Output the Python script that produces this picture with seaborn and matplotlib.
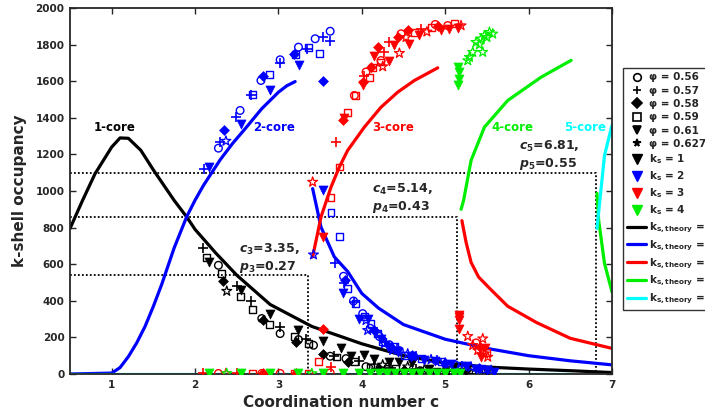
import matplotlib
matplotlib.use("Agg")
import pandas as pd
import matplotlib.pyplot as plt
from matplotlib.lines import Line2D
import seaborn as sns

# ── Legend / style categories ─────────────────────────────
phi_labels = ["0.56", "0.57", "0.58", "0.59", "0.61", "0.627"]
phi_markers = ["o", "+", "D", "s", "v", "*"]
ks_levels = [1, 2, 3, 4]
ks_colors = {1: "black", 2: "#0000ff", 3: "#ff0000", 4: "#00ee00", 5: "#00ffff"}

# ── Simulation points (c, occupancy, phi index) ───────────
ks1_c = [2.10, 2.14, 2.17, 2.28, 2.32, 2.34, 2.38, 2.50, 2.55, 2.54, 2.67, 2.69,
         2.90, 2.80, 2.82, 2.89, 3.02, 3.02, 3.24, 3.21, 3.19, 3.24, 3.33, 3.36,
         3.42, 3.53, 3.53, 3.62, 3.75, 3.70, 3.67, 3.87, 3.81, 3.83, 3.91, 3.97,
         4.03, 4.15, 4.33, 4.45, 4.60, 4.05, 4.10, 4.20, 4.25, 4.30, 4.40, 4.50,
         4.55, 4.70, 4.80, 4.90, 5.00, 5.10, 5.20, 5.30, 5.40, 5.50, 4.35, 4.65,
         5.05, 4.15, 4.75, 5.25]
ks1_n = [690, 639, 612, 594, 548, 508, 453, 479, 461, 421, 399, 352,
         326, 303, 295, 271, 257, 221, 242, 175, 206, 188, 193, 166,
         157, 179, 111, 97, 144, 93, 100, 97, 84, 66, 66, 70,
         102, 84, 66, 66, 60, 40, 35, 30, 50, 25, 30, 20,
         40, 18, 30, 15, 20, 25, 12, 15, 8, 10, 35, 28,
         18, 45, 25, 22]
ks1_phi = [1, 3, 4, 0, 3, 2, 5, 1, 4, 3, 1, 3,
           4, 0, 2, 3, 1, 0, 4, 2, 3, 0, 1, 3,
           0, 4, 2, 0, 4, 3, 1, 4, 0, 2, 3, 1,
           4, 4, 4, 4, 4, 0, 3, 2, 5, 0, 3, 2,
           5, 0, 4, 3, 2, 4, 0, 5, 3, 4, 1, 1,
           1, 5, 5, 2]

ks2_c = [2.11, 2.17, 2.28, 2.30, 2.37, 2.35, 2.49, 2.54, 2.55, 2.67, 2.69, 2.90,
         2.79, 2.82, 2.89, 3.02, 3.02, 3.25, 3.19, 3.20, 3.24, 3.34, 3.36, 3.49,
         3.53, 3.44, 3.53, 3.62, 3.62,
         3.42, 3.53, 3.63, 3.73, 3.68, 3.78, 3.80, 3.79, 3.77, 3.83, 3.90, 3.91,
         3.92, 3.97, 4.01, 4.03, 4.05, 4.07, 4.11, 4.07, 4.10, 4.15, 4.19, 4.23,
         4.21, 4.27, 4.25, 4.31, 4.33, 4.39, 4.37, 4.43, 4.45, 4.51, 4.55, 4.59,
         4.62, 4.71, 4.75, 4.83, 4.88, 4.95, 5.00, 5.07, 5.12, 5.19, 5.25, 5.31,
         5.37, 5.43, 5.50, 5.55, 5.59, 4.28, 4.18, 4.42, 4.65, 4.90, 5.20, 4.35,
         4.60, 5.00, 5.40]
ks2_n = [1122, 1131, 1234, 1267, 1273, 1331, 1404, 1440, 1364, 1522, 1527, 1553,
         1604, 1626, 1637, 1699, 1717, 1686, 1750, 1745, 1786, 1777, 1786, 1750,
         1600, 1832, 1841, 1873, 1819,
         652, 1004, 880, 749, 606, 534, 512, 500, 442, 466, 399, 393,
         385, 302, 330, 315, 293, 300, 275, 239, 250, 240, 221, 193,
         205, 166, 180, 148, 160, 148, 130, 120, 128, 102, 110, 93,
         98, 84, 78, 79, 70, 66, 60, 57, 50, 48, 42, 38,
         30, 29, 22, 20, 11, 175, 230, 140, 100, 75, 45, 150,
         105, 62, 33]
ks2_phi = [1, 4, 0, 1, 5, 2, 1, 0, 4, 1, 3, 4,
           0, 2, 3, 1, 0, 4, 2, 3, 0, 1, 3, 3,
           2, 0, 1, 0, 1,
           5, 4, 3, 3, 1, 0, 2, 1, 4, 3, 0, 1,
           3, 4, 0, 3, 5, 4, 3, 5, 0, 2, 3, 4,
           0, 5, 3, 4, 0, 3, 5, 4, 0, 3, 5, 4,
           0, 3, 4, 5, 4, 3, 5, 4, 0, 3, 4, 5,
           4, 3, 4, 5, 4, 1, 1, 1, 1, 1, 1, 2,
           2, 2, 2]

ks3_c = [2.10, 2.28, 2.37, 2.50, 2.69, 2.80, 2.82, 3.02, 3.19, 3.21, 3.36, 3.62,
         3.53, 3.48, 3.63,
         3.41, 3.63, 3.53, 3.73, 3.69, 3.77, 3.79, 3.83, 3.91, 3.92, 4.01, 4.03,
         4.09, 4.01, 4.11, 4.13, 4.23, 4.22, 4.19, 4.32, 4.45, 4.33, 4.43, 4.47,
         4.57, 4.63, 4.71, 4.83, 4.91, 5.03, 5.05, 5.11, 5.19, 4.15, 4.27, 4.38,
         4.53, 4.68, 4.78, 4.95, 4.25, 4.05, 4.55, 4.88, 5.15,
         5.17, 5.17, 5.17, 5.16, 5.27, 5.45, 5.33, 5.39, 5.47, 5.51, 5.43, 5.48,
         5.37, 5.50, 5.42]
ks3_n = [3, 3, 3, 3, 3, 3, 3, 3, 3, 3, 3, 6,
         248, 66, 38,
         1049, 967, 749, 1131, 1267, 1386, 1400, 1431, 1522, 1522, 1595, 1631,
         1622, 1577, 1677, 1677, 1713, 1705, 1786, 1713, 1753, 1813, 1841, 1859,
         1804, 1868, 1886, 1895, 1904, 1904, 1886, 1914, 1904, 1740, 1760, 1800,
         1840, 1855, 1870, 1880, 1680, 1650, 1880, 1910, 1890,
         321, 293, 248, 310, 206, 193, 157, 129, 111, 93, 95, 140,
         170, 120, 150]
ks3_phi = [1, 0, 5, 1, 3, 0, 2, 0, 3, 2, 3, 0,
           2, 3, 1,
           5, 3, 4, 3, 1, 2, 4, 3, 0, 3, 2, 1,
           3, 4, 2, 3, 0, 3, 2, 4, 5, 1, 2, 0,
           4, 3, 1, 3, 2, 0, 4, 3, 5, 4, 1, 4,
           5, 4, 5, 4, 5, 0, 2, 0, 4,
           4, 4, 4, 4, 5, 5, 5, 5, 5, 5, 4, 4,
           0, 3, 2]

ks4_c = [2.17, 2.38, 2.55, 2.90, 3.24, 3.40, 3.53, 3.77, 3.97, 4.10, 4.20, 4.30,
         4.40, 4.50, 4.60, 4.70, 4.80, 4.90, 5.00, 5.10, 5.18, 4.25, 4.55, 4.85,
         5.15,
         5.15, 5.17, 5.16, 5.15, 5.27, 5.29, 5.33, 5.45, 5.37, 5.43, 5.47, 5.53,
         5.57, 5.50, 5.41]
ks4_n = [3, 3, 3, 3, 3, 3, 3, 3, 3, 3, 3, 3,
         3, 3, 3, 3, 3, 3, 3, 3, 3, 3, 3, 3,
         3,
         1577, 1613, 1650, 1677, 1713, 1731, 1759, 1759, 1813, 1832, 1850, 1868,
         1859, 1840, 1800]
ks4_phi = [4, 5, 4, 4, 4, 5, 4, 4, 4, 4, 4, 4,
           4, 4, 4, 4, 4, 4, 4, 4, 4, 5, 0, 3,
           5,
           4, 4, 4, 4, 5, 5, 5, 5, 5, 5, 5, 5,
           5, 5, 5]

# ── Theory curves (branches) ──────────────────────────────
th1_c = [0.5, 0.65, 0.8, 1.0, 1.1, 1.2, 1.35, 1.5, 1.75, 1.9, 2.0, 2.25, 2.5,
         2.9, 3.4, 4.0, 4.5, 5.0, 5.5, 6.0, 6.5, 7.0]
th1_n = [795, 948, 1094, 1240, 1290, 1288, 1222, 1115, 948, 858, 790, 660, 540,
         380, 260, 165, 100, 60, 38, 27, 18, 8]
th2a_c = [0.5, 1.0, 1.1, 1.2, 1.3, 1.4, 1.5, 1.6, 1.75, 1.9, 2.0, 2.1, 2.2, 2.3,
          2.45, 2.6, 2.8, 3.0, 3.1, 3.2]
th2a_n = [0, 5, 35, 95, 170, 260, 370, 490, 690, 860, 950, 1030, 1100, 1170,
          1260, 1340, 1450, 1540, 1575, 1598]
th2b_c = [3.41, 3.51, 3.67, 3.83, 4.0, 4.2, 4.5, 5.0, 5.5, 6.0, 6.5, 7.0]
th2b_n = [1013, 803, 640, 560, 440, 360, 270, 190, 140, 100, 72, 50]
th3a_c = [3.41, 3.51, 3.63, 3.73, 3.83, 4.03, 4.23, 4.43, 4.63, 4.91]
th3a_n = [640, 858, 1021, 1131, 1222, 1349, 1458, 1540, 1604, 1673]
th3b_c = [5.2, 5.25, 5.31, 5.4, 5.55, 5.75, 6.1, 6.5, 7.0]
th3b_n = [838, 720, 610, 530, 460, 370, 280, 195, 140]
th4a_c = [5.19, 5.22, 5.31, 5.47, 5.75, 6.15, 6.51]
th4a_n = [900, 948, 1167, 1349, 1495, 1622, 1714]
th4b_c = [6.82, 6.84, 6.91, 7.0]
th4b_n = [987, 840, 605, 448]
th5a_c = [0.5, 6.5]
th5a_n = [0, 0]
th5b_c = [6.82, 6.91, 7.0]
th5b_n = [795, 1195, 1359]

# critical points
c_crit = [3.35, 5.14, 6.81]
n_crit = [540, 860, 1100]
p_crit = [0.27, 0.43, 0.55]

# ── Build table ───────────────────────────────────────────
frames = []
for ks, cs, ns, ph in [(1, ks1_c, ks1_n, ks1_phi), (2, ks2_c, ks2_n, ks2_phi),
                       (3, ks3_c, ks3_n, ks3_phi), (4, ks4_c, ks4_n, ks4_phi)]:
    frames.append(pd.DataFrame({"c": cs, "n": ns, "phi": ph, "ks": ks}))
df = pd.concat(frames, ignore_index=True)

# ── Figure ────────────────────────────────────────────────
sns.set_style("ticks")
plt.rcParams["font.family"] = ["DejaVu Sans"]
plt.rcParams["font.weight"] = "bold"
plt.rcParams["mathtext.fontset"] = "custom"
plt.rcParams["mathtext.rm"] = "DejaVu Sans:bold"
plt.rcParams["mathtext.it"] = "DejaVu Sans:italic:bold"
plt.rcParams["mathtext.bf"] = "DejaVu Sans:bold"

fig = plt.figure(figsize=(7.05, 4.17), dpi=100)
ax = fig.add_axes([70 / 705, 43 / 417, 542 / 705, 366 / 417])

# theory lines
lw = 2.3
branches = [(th1_c, th1_n, 1), (th2a_c, th2a_n, 2), (th2b_c, th2b_n, 2),
            (th3a_c, th3a_n, 3), (th3b_c, th3b_n, 3), (th4a_c, th4a_n, 4),
            (th4b_c, th4b_n, 4), (th5a_c, th5a_n, 5), (th5b_c, th5b_n, 5)]
for cs, ns, k in branches:
    sns.lineplot(x=cs, y=ns, color=ks_colors[k], lw=lw, sort=False,
                 estimator=None, ax=ax, legend=False, zorder=2)

# dotted guides
for cc, nn in zip(c_crit, n_crit):
    ax.plot([0.5, cc, cc], [nn, nn, 0], ls=(0, (1, 1.2)), color="black",
            lw=1.3, zorder=1)

# scatter points
sizes = {"o": 30, "+": 45, "D": 25, "s": 25, "v": 42, "*": 55}
for ks in ks_levels:
    for i, m in enumerate(phi_markers):
        sub = df[(df.ks == ks) & (df.phi == i)]
        if sub.empty:
            continue
        c = ks_colors[ks]
        kw = dict(marker=m, s=sizes[m], ax=ax, legend=False, zorder=3)
        if m == "+":
            kw.update(color=c, linewidth=1.2)
        elif m in ("o", "s"):
            kw.update(color=c, facecolor="none", edgecolor=c, linewidth=1.0)
        elif m == "*":
            kw.update(color=c, facecolor="none", edgecolor=c, linewidth=0.9)
        else:
            kw.update(color=c, edgecolor=c, linewidth=0.5)
        sns.scatterplot(data=sub, x="c", y="n", **kw)

# core labels
core_x = [1.03, 2.95, 4.38, 5.81, 6.68]
for k, xc in enumerate(core_x, start=1):
    ax.text(xc, 1345, f"{k}-core", color=ks_colors[k], fontsize=8.5,
            fontweight="bold", ha="center", va="center", zorder=4)

# critical annotations
ann_pos = [(2.53, 630), (4.12, 960), (5.89, 1193)]
for j, ((tx, ty), cc, pp) in enumerate(zip(ann_pos, c_crit, p_crit), start=3):
    ax.text(tx, ty, f"$c_{j}$={cc:.2f},\n$p_{j}$={pp:.2f}", fontsize=9,
            fontweight="bold", ha="left", va="center", linespacing=1.15, zorder=4)

ax.set_xlim(0.5, 7)
ax.set_ylim(0, 2000)
ax.set_xticks(range(1, 8))
ax.set_yticks(range(0, 2001, 200))
ax.tick_params(direction="in", length=4, width=1, labelsize=7.5, top=True,
               right=True, pad=4)
for lab in ax.get_xticklabels() + ax.get_yticklabels():
    lab.set_fontweight("bold")
for sp in ax.spines.values():
    sp.set_linewidth(1.3)
    sp.set_visible(True)
ax.set_xlabel("Coordination number c", fontsize=11, fontweight="bold", labelpad=4)
ax.set_ylabel("k-shell occupancy", fontsize=11, fontweight="bold", labelpad=6)

# legend
handles, labels = [], []
for m, lab in zip(phi_markers, phi_labels):
    fc = "none" if m in ("o", "s") else "black"
    handles.append(Line2D([], [], marker=m, ls="", color="black", mfc=fc,
                          markersize=5.5, mew=1.2))
    labels.append(f"φ = {lab}")
for k in ks_levels:
    handles.append(Line2D([], [], marker="v", ls="", color=ks_colors[k],
                          markersize=7))
    labels.append(r"k$_\mathrm{s}$ = " + str(k))
for k in range(1, 6):
    handles.append(Line2D([], [], color=ks_colors[k], lw=2.3))
    labels.append(r"k$_\mathrm{s,theory}$ =" + str(k))
leg = fig.legend(handles, labels, loc="upper left",
                 bbox_to_anchor=(623 / 705, 1 - 68 / 417), fontsize=7.5,
                 frameon=True, fancybox=False, edgecolor="black",
                 handlelength=1.8, handletextpad=0.3, labelspacing=0.32,
                 borderpad=0.4, borderaxespad=0)
leg.get_frame().set_linewidth(1.0)
for t in leg.get_texts():
    t.set_fontweight("bold")

fig.savefig("out.png", dpi=100)
